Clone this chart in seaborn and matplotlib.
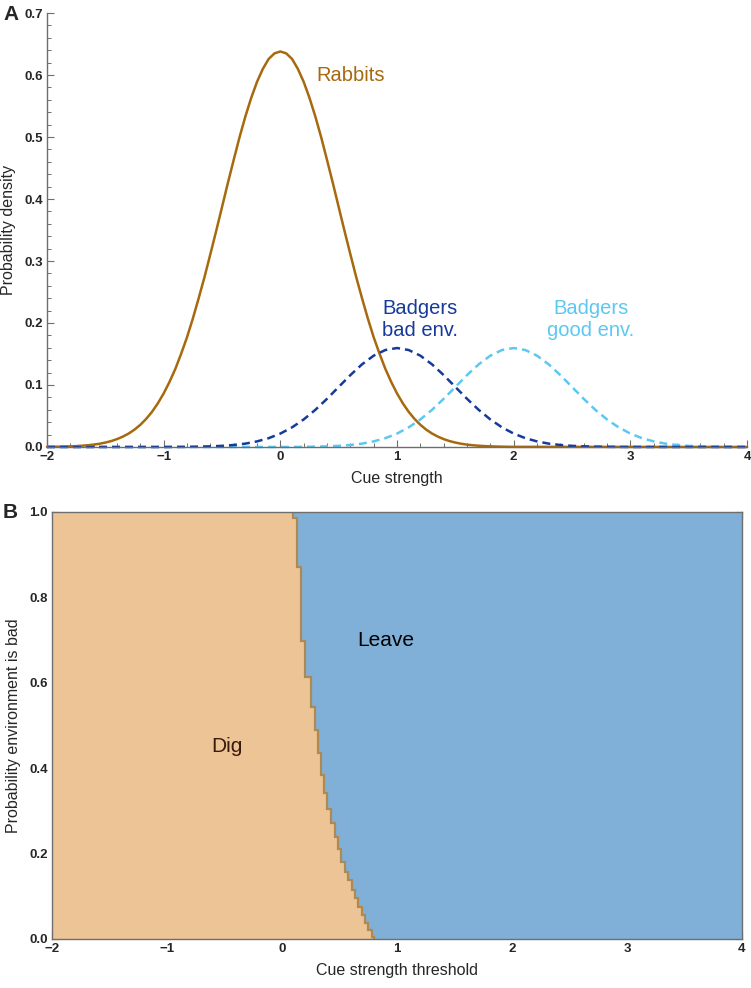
"""
Rabbit vs badger cue strengths (A) and the dig / leave decision region (B).
"""

import matplotlib

matplotlib.use("Agg")
import matplotlib.pyplot as plt
import numpy as np
import seaborn as sns
from matplotlib.ticker import FormatStrFormatter, MultipleLocator

# cue strength grids
rabbit_cue = np.append(np.round(np.arange(-40, 41) / 20, 2), 4.0)  # -2..2 by 0.05, then 4
cue = np.round(np.arange(-20, 41) / 10, 1)  # -2..4 by 0.1

# probability density
rabbits = [
    0.0002, 0.0003, 0.0005, 0.0007, 0.0010, 0.0014, 0.0020, 0.0028, 0.0038, 0.0052,
    0.0071, 0.0095, 0.0127, 0.0167, 0.0217, 0.0280, 0.0358, 0.0453, 0.0567, 0.0704,
    0.0864, 0.1050, 0.126, 0.1505, 0.177, 0.2072, 0.240, 0.2742, 0.311, 0.3485,
    0.387, 0.4257, 0.463, 0.4996, 0.533, 0.563, 0.589, 0.610, 0.626, 0.635,
    0.638,
    0.635, 0.626, 0.610, 0.589, 0.563, 0.533, 0.4996, 0.463, 0.4257, 0.387,
    0.3485, 0.311, 0.2742, 0.240, 0.2072, 0.177, 0.1505, 0.126, 0.1050, 0.0864,
    0.0704, 0.0567, 0.0453, 0.0358, 0.0280, 0.0217, 0.0167, 0.0127, 0.0095, 0.0071,
    0.0052, 0.0038, 0.0028, 0.0020, 0.0014, 0.0010, 0.0007, 0.0005, 0.0003, 0.0002,
    0,
]
badgers_bad = [
    0, 0, 0, 0, 0, 0, 0, 0, 0, 0, 0,
    0.0001, 0.0002, 0.0005, 0.0010, 0.0018, 0.0032, 0.0054, 0.0090, 0.0142, 0.0216,
    0.0316, 0.0444, 0.0599, 0.0777, 0.0968, 0.1159, 0.1333, 0.1473, 0.1564,
    0.1596,
    0.1564, 0.1473, 0.1333, 0.1159, 0.0968, 0.0777, 0.0599, 0.0444, 0.0316, 0.0216,
    0.0142, 0.0090, 0.0054, 0.0032, 0.0018, 0.0010, 0.0005, 0.0002, 0.0001, 0,
    0, 0, 0, 0, 0, 0, 0, 0, 0, 0,
]
badgers_good = [
    0, 0, 0, 0, 0, 0, 0, 0, 0, 0, 0,
    0, 0, 0, 0, 0, 0, 0, 0, 0, 0,
    0.0001, 0.0002, 0.0005, 0.0010, 0.0018, 0.0032, 0.0054, 0.0090, 0.0142, 0.0216,
    0.0316, 0.0444, 0.0599, 0.0777, 0.0968, 0.1159, 0.1333, 0.1473, 0.1564,
    0.1596,
    0.1564, 0.1473, 0.1333, 0.1159, 0.0968, 0.0777, 0.0599, 0.0444, 0.0316, 0.0216,
    0.0142, 0.0090, 0.0054, 0.0032, 0.0018, 0.0010, 0.0005, 0.0002, 0.0001, 0,
]

# panel B: step boundary between dig and leave
prob_bad_edges = [
    0.0, 0.005, 0.021, 0.037, 0.056, 0.076, 0.096, 0.115, 0.138, 0.158,
    0.181, 0.21, 0.24, 0.272, 0.304, 0.342, 0.384, 0.436, 0.49, 0.544,
    0.614, 0.697, 0.872, 0.986, 1.0,
]
cue_threshold = [
    0.803, 0.78, 0.748, 0.722, 0.693, 0.664, 0.635, 0.606, 0.574, 0.548,
    0.513, 0.487, 0.461, 0.426, 0.394, 0.365, 0.339, 0.313, 0.287, 0.252,
    0.2, 0.165, 0.128, 0.098,
]

RABBIT_COL = "#a7690e"
BAD_COL = "#163a9c"
GOOD_COL = "#5cc8f2"
DIG_COL = "#ecc496"
LEAVE_COL = "#80b0d8"
EDGE_COL = "#ad8a52"
AXIS_COL = "#6e6e6e"

sns.set_theme(style="ticks")
plt.rcParams["font.family"] = ["Liberation Sans", "DejaVu Sans"]

fig = plt.figure(figsize=(7.51, 9.88), dpi=100)
ax1 = fig.add_axes([0.0626, 0.5476, 0.9321, 0.4392])
ax2 = fig.add_axes([0.0692, 0.0496, 0.9188, 0.4322])

# ---- panel A
sns.lineplot(x=rabbit_cue, y=rabbits, ax=ax1, color=RABBIT_COL, lw=1.8, clip_on=False)
sns.lineplot(x=cue, y=badgers_good, ax=ax1, color=GOOD_COL, lw=1.8,
             linestyle=(0, (3.2, 2.0)), clip_on=False)
sns.lineplot(x=cue, y=badgers_bad, ax=ax1, color=BAD_COL, lw=1.8,
             linestyle=(0, (3.2, 2.0)), clip_on=False)

ax1.set_xlim(-2, 4)
ax1.set_ylim(0, 0.7)
ax1.xaxis.set_major_locator(MultipleLocator(1))
ax1.xaxis.set_minor_locator(MultipleLocator(0.2))
ax1.yaxis.set_major_locator(MultipleLocator(0.1))
ax1.yaxis.set_minor_locator(MultipleLocator(0.02))
ax1.yaxis.set_major_formatter(FormatStrFormatter("%.1f"))
sns.despine(ax=ax1)
for s in ["left", "bottom"]:
    ax1.spines[s].set_color(AXIS_COL)
    ax1.spines[s].set_linewidth(1.0)
ax1.tick_params(which="major", direction="in", length=5, width=0.8,
                color=AXIS_COL, labelsize=9.5, pad=3)
ax1.tick_params(which="minor", direction="in", length=3, width=0.7, color=AXIS_COL)
ax1.set_xlabel("Cue strength", fontsize=11.5, labelpad=6)
ax1.set_ylabel("Probability density", fontsize=11.5, labelpad=6)

ax1.text(0.6, 0.6, "Rabbits", color=RABBIT_COL, fontsize=14.5, ha="center", va="center")
ax1.text(1.2, 0.205, "Badgers\nbad env.", color=BAD_COL, fontsize=14.5,
         ha="center", va="center", linespacing=1.2)
ax1.text(2.66, 0.205, "Badgers\ngood env.", color=GOOD_COL, fontsize=14.5,
         ha="center", va="center", linespacing=1.2)

# ---- panel B
ax2.stairs(cue_threshold, prob_bad_edges, orientation="horizontal",
           baseline=-2, fill=True, color=DIG_COL, lw=0)
ax2.stairs(cue_threshold, prob_bad_edges, orientation="horizontal",
           baseline=4, fill=True, color=LEAVE_COL, lw=0)
ax2.stairs(cue_threshold, prob_bad_edges, orientation="horizontal",
           baseline=None, fill=False, color=EDGE_COL, lw=1.6)

ax2.set_xlim(-2, 4)
ax2.set_ylim(0, 1)
ax2.xaxis.set_major_locator(MultipleLocator(1))
ax2.xaxis.set_minor_locator(MultipleLocator(0.2))
ax2.yaxis.set_major_locator(MultipleLocator(0.2))
ax2.yaxis.set_minor_locator(MultipleLocator(0.05))
ax2.yaxis.set_major_formatter(FormatStrFormatter("%.1f"))
for s in ax2.spines.values():
    s.set_color(AXIS_COL)
    s.set_linewidth(1.0)
ax2.tick_params(which="both", direction="in", top=True, right=True, color="#333333")
ax2.tick_params(which="major", length=5, width=0.8, labelsize=9.5, pad=3)
ax2.tick_params(which="minor", length=3, width=0.7)
ax2.set_xlabel("Cue strength threshold", fontsize=11.5, labelpad=6)
ax2.set_ylabel("Probability environment is bad", fontsize=11.5, labelpad=6)

ax2.text(0.9, 0.70, "Leave", color="black", fontsize=15, ha="center", va="center")
ax2.text(-0.48, 0.45, "Dig", color="#3b1a0e", fontsize=15, ha="center", va="center")

for ax in (ax1, ax2):
    for lab in ax.get_xticklabels() + ax.get_yticklabels():
        lab.set_fontweight("bold")

fig.text(0.004, 0.985, "A", fontsize=15, fontweight="bold", va="center")
fig.text(0.004, 0.481, "B", fontsize=15, fontweight="bold", va="center")

fig.savefig("out.png", dpi=100)
